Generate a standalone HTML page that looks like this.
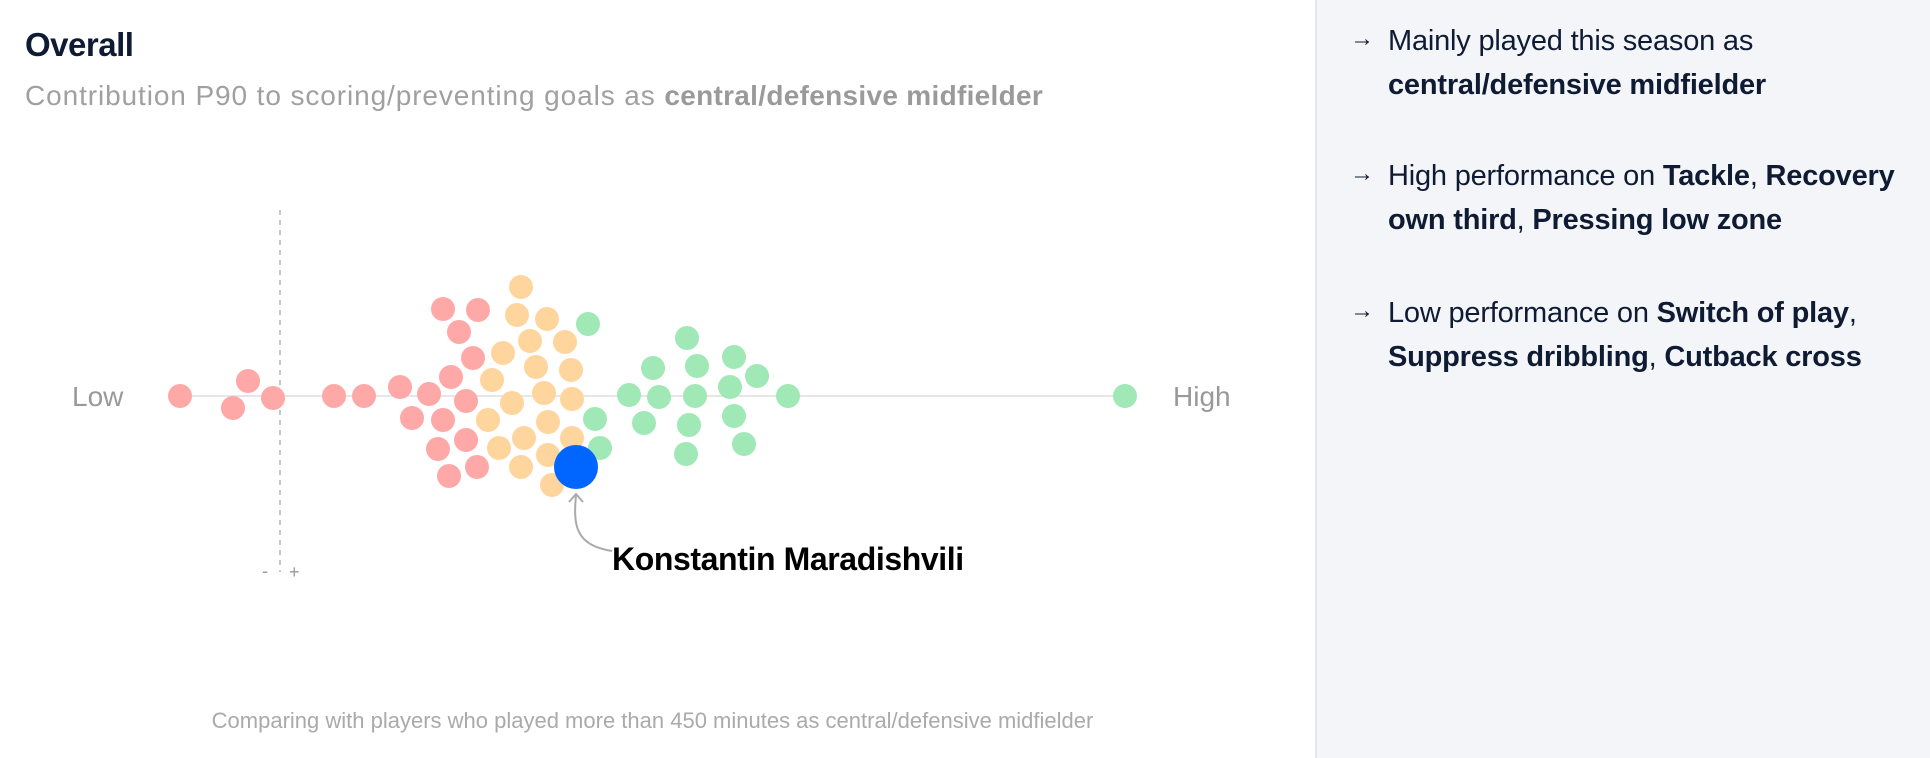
<!DOCTYPE html>
<html><head><meta charset="utf-8">
<style>
html,body{margin:0;padding:0;width:1930px;height:758px;overflow:hidden;background:#fff;font-family:"Liberation Sans",sans-serif;}
#left{position:absolute;left:0;top:0;width:1315px;height:758px;}
#title{position:absolute;left:25px;top:26px;font-size:33px;font-weight:bold;color:#0f1b33;letter-spacing:-0.5px;}
#sub{position:absolute;left:25px;top:80px;font-size:28px;color:#a0a0a0;letter-spacing:0.9px;}
#sub b{color:#9a9a9a;letter-spacing:0.3px;}
#foot{position:absolute;left:0;width:1305px;top:708px;text-align:center;font-size:22px;color:#aaa;}
#right{position:absolute;left:1315px;top:0;width:615px;height:758px;background:#f3f5f9;border-left:2px solid #e2e6ee;box-sizing:border-box;}
.item{position:absolute;left:33px;font-size:29px;line-height:44px;color:#0f1b33;letter-spacing:-0.2px;}
.item .ar{position:absolute;left:0;top:-2px;font-size:24px;}
.item .tx{position:absolute;left:38px;width:560px;}
svg{position:absolute;left:0;top:0;}
</style></head><body>
<div id="left">
<div id="title">Overall</div>
<div id="sub">Contribution P90 to scoring/preventing goals as <b>central/defensive midfielder</b></div>
<svg id="chart" width="1315" height="700"></svg>
<div id="foot">Comparing with players who played more than 450 minutes as central/defensive midfielder</div>
</div>
<div id="right">
<div class="item" style="top:19px"><span class="ar">→</span><div class="tx">Mainly played this season as<br><b>central/defensive midfielder</b></div></div>
<div class="item" style="top:154px"><span class="ar">→</span><div class="tx">High performance on <b>Tackle</b>, <b>Recovery</b><br><b>own third</b>, <b>Pressing low zone</b></div></div>
<div class="item" style="top:291px"><span class="ar">→</span><div class="tx">Low performance on <b>Switch of play</b>,<br><b>Suppress dribbling</b>, <b>Cutback cross</b></div></div>
</div>
<script>
const redValues=[-1.00,-0.32,-0.47,-0.07,0.54,0.84,1.20,1.49,1.32,1.63,1.98,1.79,1.93,1.71,1.86,1.63,1.86,1.58,1.69,1.97];
const redOffsets=[0,-15,12,2,0,0,-9,-2,22,-87,-86,-64,-38,-19,5,24,44,53,80,71];
const orangeValues=[2.41,2.37,2.67,2.50,2.85,2.23,2.56,2.91,2.12,2.64,2.92,2.32,2.08,2.68,2.92,2.44,2.19,2.68,2.41,2.72];
const orangeOffsets=[-109,-81,-77,-55,-54,-43,-29,-26,-16,-3,3,7,24,26,42,42,52,59,71,89];
const greenValues=[3.08,3.15,3.20,3.49,3.73,3.79,3.64,4.07,4.17,4.15,4.09,4.06,4.54,4.50,4.77,4.54,4.64,5.08,8.45];
const greenOffsets=[-72,23,52,-1,-28,1,27,-58,-30,0,29,58,-39,-9,-20,20,48,0,0];
const playerValue=2.96;
const playerOffset=71;
const playerName="Konstantin Maradishvili";
const domainMin=-1.00, domainMax=8.45;

const NS="http://www.w3.org/2000/svg";
const svg=document.getElementById('chart');
const baseY=396;
function xScale(v){return 280+v*100;}
function yScale(o){return baseY+o;}
function mk(tag,attrs){const e=document.createElementNS(NS,tag);for(const k in attrs)e.setAttribute(k,attrs[k]);svg.appendChild(e);return e;}

let e=mk('line',{x1:xScale(0),x2:xScale(0),y1:210,y2:572,stroke:'#c8c8c8','stroke-width':2,'stroke-dasharray':'5,5'});


e=mk('line',{x1:xScale(domainMin),x2:xScale(domainMax),y1:baseY,y2:baseY,stroke:'#e6e6e6','stroke-width':2});


e=mk('text',{x:72,y:baseY+10,'font-size':28,fill:'#999','font-family':'Liberation Sans, sans-serif'});e.textContent='Low';


e=mk('text',{x:1173,y:baseY+10,'font-size':28,fill:'#999','font-family':'Liberation Sans, sans-serif'});e.textContent='High';


e=mk('text',{x:xScale(0)-18,y:577,'font-size':18,fill:'#999','font-family':'Liberation Sans, sans-serif'});e.textContent='-';


e=mk('text',{x:xScale(0)+9,y:578,'font-size':18,fill:'#999','font-family':'Liberation Sans, sans-serif'});e.textContent='+';



function drawGroup(vals,offs,color,name){
  for(let i=0;i<vals.length;i++){
    const c=mk('circle',{cx:xScale(vals[i]),cy:yScale(offs[i]),r:12,fill:color});
    
    
  }
}
drawGroup(redValues,redOffsets,'#ffa8a8','player-dot-low');
drawGroup(orangeValues,orangeOffsets,'#ffd59e','player-dot-mid');
drawGroup(greenValues,greenOffsets,'#a0e8b5','player-dot-high');

const px=xScale(playerValue), py=yScale(playerOffset);
e=mk('circle',{cx:px,cy:py,r:22,fill:'#0066ff'});


e=mk('path',{d:`M${px} ${py+28} C ${px-3} ${py+60}, ${px} ${py+78}, ${px+36} ${py+84}`,fill:'none',stroke:'#aaa','stroke-width':2});


e=mk('path',{d:`M${px-7} ${py+35} L${px} ${py+27} L${px+7} ${py+35}`,fill:'none',stroke:'#aaa','stroke-width':2});


e=mk('text',{x:px+36,y:py+103,'font-size':32,'font-weight':'bold',fill:'#000','font-family':'Liberation Sans, sans-serif','letter-spacing':'-0.4'});
e.textContent=playerName;


</script>
</body></html>
